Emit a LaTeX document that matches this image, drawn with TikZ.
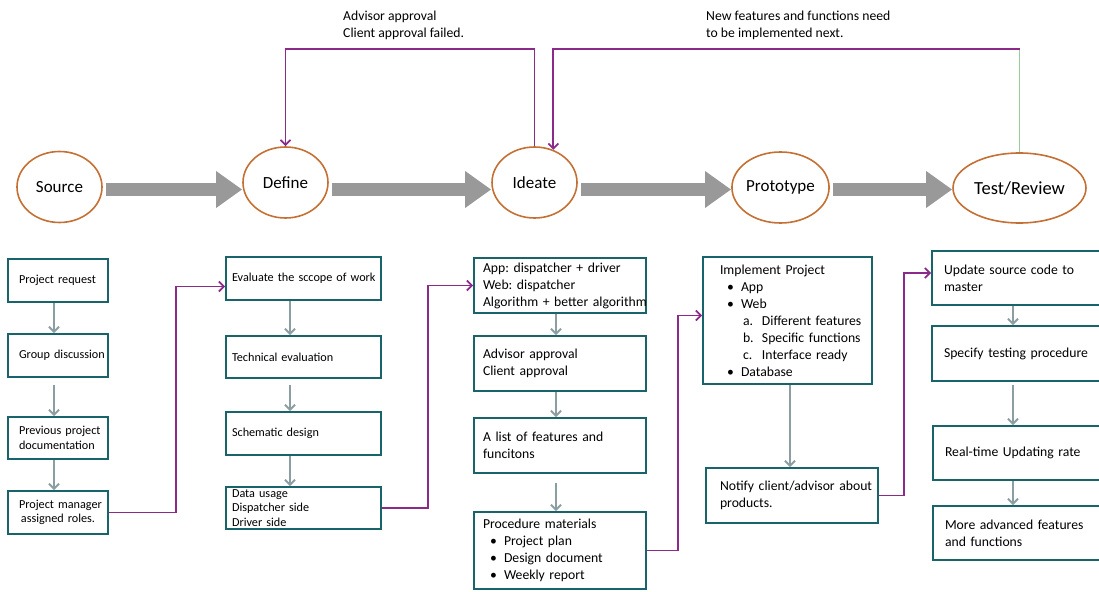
\documentclass[tikz,border=0pt]{standalone}
\usepackage{fontspec}
\setmainfont{Carlito}
\frenchspacing
\usetikzlibrary{arrows.meta,shapes.geometric}
\definecolor{ringorange}{RGB}{196,112,52}
\definecolor{boxteal}{RGB}{24,100,106}
\definecolor{flowgray}{RGB}{140,158,162}
\definecolor{loopviolet}{RGB}{140,42,140}
\definecolor{loopgreen}{RGB}{150,205,160}
\definecolor{bigarrowgray}{RGB}{153,153,153}
\newcommand{\bul}{\makebox[21pt]{\textbullet}}
\newcommand{\sub}[1]{\hspace*{23pt}\makebox[19pt][l]{#1}}

\begin{document}
\begin{tikzpicture}[x=1pt,y=-1pt,
  stage/.style={ellipse,draw=ringorange,line width=1.6pt,inner sep=0pt,
    minimum width=85pt,minimum height=71pt,font=\fontsize{17}{20}\selectfont},
  bigarrow/.style={draw=bigarrowgray,line width=13.5pt,
    -{Triangle[length=26pt,width=35pt]}},
  box/.style={draw=boxteal,line width=1.8pt,inner ysep=0pt,align=left,
    font=\fontsize{13.7}{17}\selectfont},
  smallbox/.style={box,font=\fontsize{12.2}{14.5}\selectfont},
  flow/.style={draw=flowgray,line width=2pt,-{Straight Barb[length=5pt,width=10pt]}},
  back/.style={draw=loopviolet,line width=1.8pt,-{Straight Barb[length=5pt,width=10pt]}},
  note/.style={inner sep=0pt,align=left,font=\fontsize{13.7}{17}\selectfont}]

\useasboundingbox (0,0) rectangle (1099,591);
\clip (0,0) rectangle (1099,591);

% stages
\node[stage] (source) at (59.5,187) {Source};
\node[stage] (define) at (285.5,182.5) {Define};
\node[stage] (ideate) at (534.5,182.5) {Ideate};
\node[stage] (proto) at (780.5,187.5) {Prototype};
\node[stage,minimum width=133pt,minimum height=70pt,
  font=\fontsize{18.5}{22}\selectfont] (test) at (1019.5,188) {Test/Review};

\coordinate (axis) at (0,189.5);
\foreach \a/\b in {source/define,define/ideate,ideate/proto,proto/test}
{
   \draw[bigarrow,shorten <=3pt] (\a.east |- axis) -- (\b.west |- axis);
}

% feedback loops
\draw[back] (ideate.north) -- ++(0,-97) -| (define.north);
\draw[loopgreen,line width=1.6pt] (test.north) -- ++(0,-103) coordinate (fbtop);
\draw[back] (fbtop) -| (ideate.60);
\node[note,anchor=north west] (failnote) at (343,10.5) {Advisor approval\\Client approval failed.};
\node[note,anchor=north west] (nextnote) at (706,10.5) {New features and functions need\\to be implemented next.};

% source column
\begin{scope}[every node/.style={smallbox,minimum width=100pt,text width=78pt,inner xsep=11pt}]
\node[minimum height=43pt] (req) at (58,280.5) {Project request};
\node[minimum height=43pt] (grp) at (58,355.5) {\mbox{Group discussion}};
\node[minimum height=42pt] (prev) at (58,438) {\mbox{Previous project}\\documentation};
\node[minimum height=43pt,align=center] (pm) at (58,512.5) {\mbox{Project manager}\\assigned roles.};
\end{scope}

% define column
\begin{scope}[every node/.style={smallbox,minimum width=155pt,text width=143pt,inner xsep=6pt}]
\node[minimum height=43pt] (scope) at (303.5,278.5) {\mbox{Evaluate the sccope of work}};
\node[minimum height=42pt] (tech) at (303.5,357) {Technical evaluation};
\node[minimum height=43pt] (schem) at (303.5,433.5) {Schematic design};
\node[minimum height=42pt] (data) at (303.5,508) {Data usage\\Dispatcher side\\Driver side};
\end{scope}

% ideate column
\begin{scope}[every node/.style={box,minimum width=172pt,text width=154pt,inner xsep=9pt}]
\node[minimum height=55pt] (app) at (560,285.5) {App: dispatcher + driver\\Web: dispatcher\\\mbox{Algorithm + better algorithm}};
\node[minimum height=55pt] (appr) at (560,363.5) {Advisor approval\\Client approval};
\node[minimum height=55pt] (list) at (560,445.5) {A list of features and\\funcitons};
\node[minimum height=77pt] (proc) at (560,550.5) {Procedure materials\\\bul Project plan\\\bul Design document\\\bul Weekly report};
\end{scope}

% prototype column
\node[box,minimum width=169pt,minimum height=127pt,text width=135pt,inner xsep=17pt] (impl) at (787.5,320.5)
  {Implement Project\\\bul App\\\bul Web\\\mbox{\sub{a.}Different features}\\\mbox{\sub{b.}Specific functions}\\\mbox{\sub{c.}Interface ready}\\\bul Database};
\node[box,minimum width=172pt,minimum height=55pt,text width=144pt,inner xsep=14pt] (notify) at (792,495.5)
  {\mbox{Notify client/advisor about}\\products.};

% test column
\begin{scope}[every node/.style={box,minimum width=184pt,text width=160pt,inner xsep=12pt}]
\node[minimum height=54pt] (upd) at (1024,278) {Update source code to\\master};
\node[minimum height=55pt] (spec) at (1024,353.5) {Specify testing procedure};
\node[minimum height=54pt] (rt) at (1025,453) {Real-time Updating rate};
\node[minimum height=54pt] (more) at (1025,533) {More advanced features\\and functions};
\end{scope}

% arrows inside columns
\foreach \a/\b/\s in {req/grp/0,grp/prev/7,prev/pm/0}
{
   \draw[flow,shorten <=\s pt] ([xshift=-4pt]\a.south) -- ([xshift=-4pt]\b.north);
}
\foreach \a/\b/\s in {scope/tech/0,tech/schem/6,schem/data/0}
{
   \draw[flow,shorten <=\s pt] ([xshift=-13.5pt]\a.south) -- ([xshift=-13.5pt]\b.north);
}
\foreach \a/\b/\s in {app/appr/0,appr/list/0,list/proc/9}
{
   \draw[flow,shorten <=\s pt] ([xshift=-4pt]\a.south) -- ([xshift=-4pt]\b.north);
}
\draw[flow] ([xshift=2.5pt]impl.south) -- ([xshift=2.5pt]impl.south |- notify.north);
\foreach \a/\b/\s in {upd/spec/0,spec/rt/3,rt/more/0}
{
   \draw[flow,shorten <=\s pt] (1013,0 |- \a.south) -- (1013,0 |- \b.north);
}

% links between columns
\draw[back] (pm.east) -- ++(67,0) |- ([yshift=-8pt]scope.west);
\draw[back] (data.east) -- ++(46,0) |- (app.west);
\draw[back] (proc.east) -- ++(31,0) |- ([yshift=5pt]impl.west);
\draw[back] (notify.east) -- ++(25,0) |- ([yshift=5pt]upd.west);
\end{tikzpicture}
\end{document}
